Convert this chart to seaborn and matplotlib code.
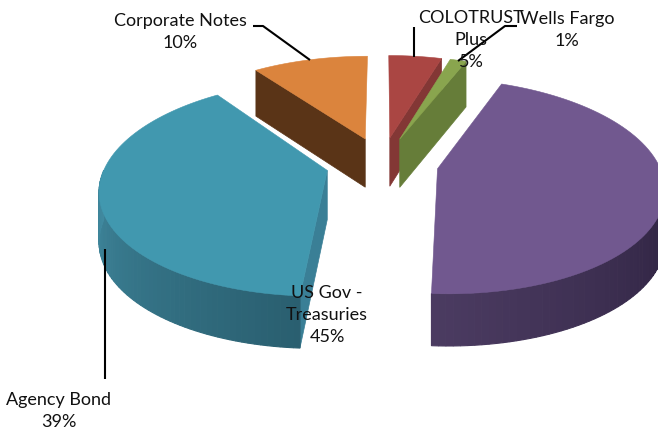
import numpy as np
import matplotlib
matplotlib.use("Agg")
import matplotlib.pyplot as plt
import seaborn as sns

# Data (labels show these rounded)
labels = ["US Gov -\nTreasuries", "Agency Bond", "Corporate Notes", "COLOTRUST\nPlus", "Wells Fargo"]
values = [45, 39, 10, 4.6, 1.4]

top_colors = ["#71588f", "#4198af", "#db843d", "#aa4643", "#89a54e"]
wall_light = ["#4b3b61", "#40899f", "#5a3417", "#833735", "#667d39"]
wall_dark = ["#2a1f3c", "#2a5f70", "#5a3417", "#833735", "#667d39"]
face_colors = ["#3a2d4c", "#3a7f96", "#5a3417", "#833735", "#667d39"]

sns.set_theme(style="white")
plt.rcParams["font.family"] = ["Lato", "DejaVu Sans"]

# Projection of the tilted pie (pixels of the picture)
cx, cy = 382, 164
rx, ry = 221, 103
persp = 0.16
explode = 0.255
start_angle = 21.6


def project(x, v, drop=0.0):
    # x to the right, v towards the viewer, drop = how far down the wall
    k = 1 - persp * v
    depth = (49 + 3 * v) * drop
    return cx + rx * x / k, cy + ry * v / k + depth


def wedge_points(x0, v0, a1, a2, n=80):
    t = np.radians(np.linspace(a1, a2, n))
    return x0 + np.sin(t), v0 - np.cos(t)


fig = plt.figure(figsize=(6.58, 4.31), dpi=100)
ax = fig.add_axes([0, 0, 1, 1])
ax.set_xlim(0, 658)
ax.set_ylim(431, 0)
ax.axis("off")

edges = start_angle + np.cumsum([0] + values) * 3.6
slices = []
for i in range(len(values)):
    a1, a2 = edges[i], edges[i + 1]
    mid = np.radians((a1 + a2) / 2)
    slices.append((i, a1, a2, explode * np.sin(mid), -explode * np.cos(mid)))

# back to front
for i, a1, a2, x0, v0 in sorted(slices, key=lambda s: (s[4] > 0, s[0] if s[4] <= 0 else -s[0])):
    # cut faces that look towards the viewer
    for ang, side in ((a1, -1), (a2, 1)):
        normal = np.radians(ang + side * 90)
        if -np.cos(normal) > 0.02:
            xe, ve = x0 + np.sin(np.radians(ang)), v0 - np.cos(np.radians(ang))
            p = [project(x0, v0), project(xe, ve), project(xe, ve, 1), project(x0, v0, 1)]
            ax.fill(*zip(*p), color=face_colors[i], lw=0.5, zorder=2)

    # outer wall, shaded in small strips
    lo, hi = max(a1 % 360, 90), min(a2 % 360 if a2 % 360 > a1 % 360 else 360, 270)
    if hi > lo:
        n = 60
        t = np.linspace(lo, hi, n + 1)
        shades = sns.blend_palette([wall_dark[i], wall_light[i]], n)
        for j in range(n):
            xs, vs = wedge_points(x0, v0, t[j], t[j + 1], 3)
            up = list(zip(*project(xs, vs)))
            down = list(zip(*project(xs, vs, 1)))
            p = up + down[::-1]
            ax.fill(*zip(*p), facecolor=shades[j], edgecolor=shades[j], lw=0.8, zorder=2)

    # top surface
    xs, vs = wedge_points(x0, v0, a1, a2)
    px, py = project(np.r_[x0, xs], np.r_[v0, vs])
    ax.fill(px, py, color=top_colors[i], lw=0.4, zorder=2)

# leader lines
line_kw = dict(color="black", lw=1.5, zorder=3, solid_capstyle="butt")
ax.plot([253, 263, 310], [27, 27, 61], **line_kw)
ax.plot([414, 414], [28, 58], **line_kw)
ax.plot([517, 505, 458], [27, 27, 62], **line_kw)
ax.plot([105, 105], [250, 380], **line_kw)

# data labels
text_kw = dict(ha="center", va="center", fontsize=13, color="#111111", zorder=4, linespacing=1.48)
ax.text(327, 315, f"{labels[0]}\n{values[0]:.0f}%", **text_kw)
ax.text(59, 411, f"{labels[1]}\n{values[1]:.0f}%", **text_kw)
ax.text(180, 32, f"{labels[2]}\n{values[2]:.0f}%", **text_kw)
ax.text(471, 40, f"{labels[3]}\n{values[3]:.0f}%", **text_kw)
ax.text(567, 30, f"{labels[4]}\n{values[4]:.0f}%", **text_kw)

fig.savefig("out.png", dpi=100)
